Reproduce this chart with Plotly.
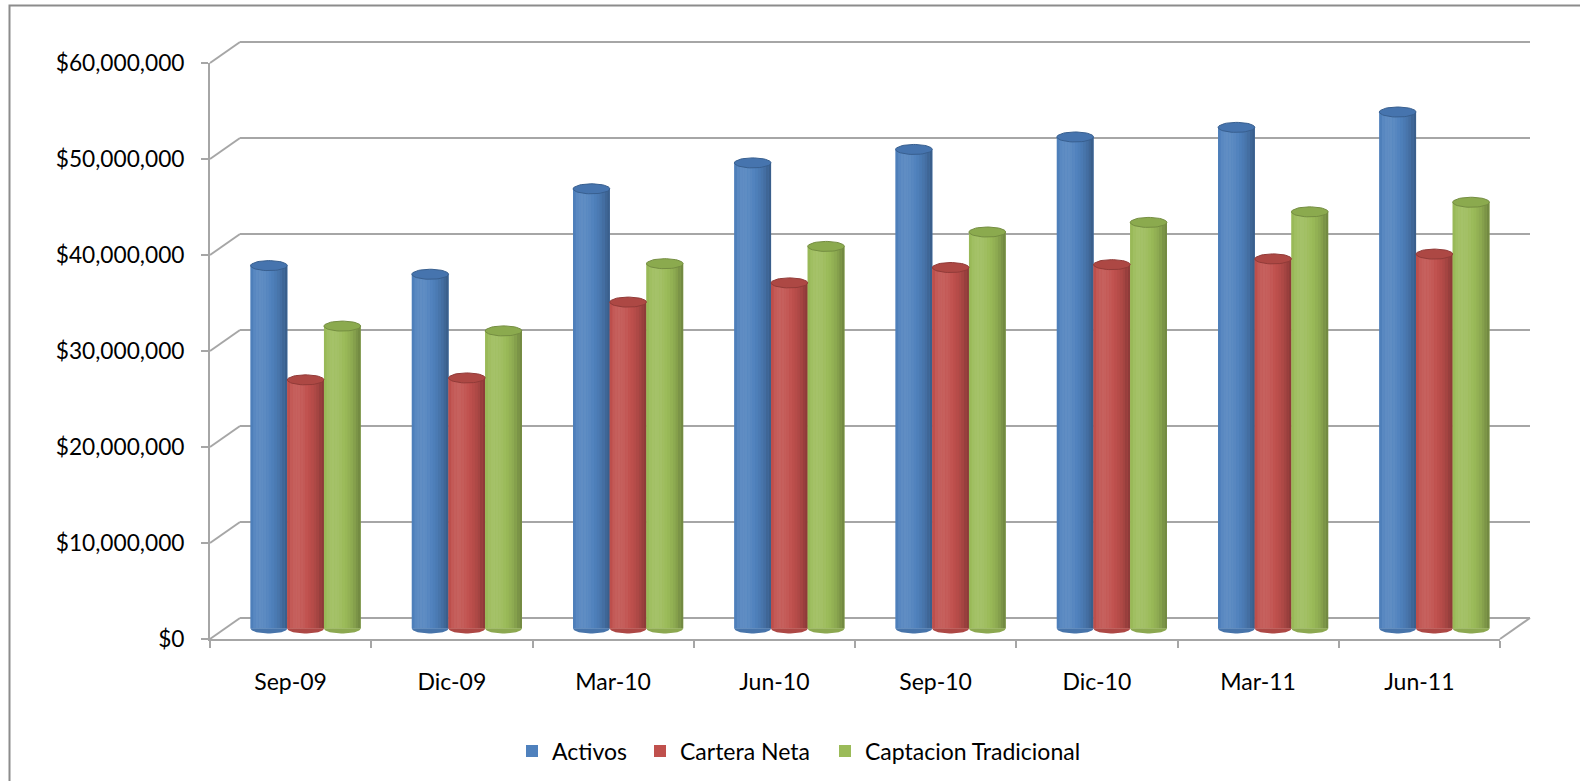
import numpy as np
import plotly.graph_objects as go

# ---------------- data ----------------
categories = ["Sep-09", "Dic-09", "Mar-10", "Jun-10", "Sep-10", "Dic-10", "Mar-11", "Jun-11"]
activos = [37.8e6, 36.9e6, 45.8e6, 48.5e6, 49.9e6, 51.2e6, 52.2e6, 53.8e6]
cartera_neta = [25.9e6, 26.1e6, 34.0e6, 36.0e6, 37.6e6, 37.9e6, 38.5e6, 39.0e6]
captacion_tradicional = [31.5e6, 31.0e6, 38.0e6, 39.8e6, 41.3e6, 42.3e6, 43.4e6, 44.4e6]
series_names = ["Activos", "Cartera Neta", "Captacion Tradicional"]
y_ticks = [0, 10e6, 20e6, 30e6, 40e6, 50e6, 60e6]
y_tick_labels = ["$0", "$10,000,000", "$20,000,000", "$30,000,000",
                 "$40,000,000", "$50,000,000", "$60,000,000"]

# ---------------- styling ----------------
W, H = 1580, 781
FONT = "Lato, 'Open Sans', sans-serif"
FS = 23
FSY = 22.7
GRID = "#A6A6A6"
main_colors = ["#4F81BD", "#C0504D", "#9BBB59"]
edge_colors = ["#385F8F", "#913B38", "#748D41"]
top_colors = ["#4674AE", "#AD4844", "#8BAA4E"]
legend_px = [532, 660, 845]   # left edge of legend squares (px)

SCALE = 96 / 10e6          # px per unit
FX0, FX1, FY0 = 210, 1500, 639   # front plane
BDX, BDY = 15, -10.5        # bars plane offset
WDX, WDY = 30, -21          # back wall offset
YMAX = 60e6
YNEG = 2e6
PADV = 0.6e6                # small range padding so edge gridlines are drawn


def px(x):
    return x / W


def py(y):
    return 1 - y / H


def hex2rgb(h):
    h = h.lstrip("#")
    return [int(h[i:i + 2], 16) for i in (0, 2, 4)]


def shade(hexcol, f):
    r = hex2rgb(hexcol)
    out = []
    for c in r:
        if f <= 1:
            v = c * f
        else:
            v = c + (255 - c) * (f - 1) * 1.6
        out.append(int(max(0, min(255, round(v)))))
    return "rgb(%d,%d,%d)" % tuple(out)


n = len(categories)
idx = np.arange(n)
bw = 0.2275                 # one cylinder width in category units
ell_h = 5.0 / SCALE         # ellipse half height in data units
NSTRIP = 14

fig = go.Figure()

all_series = [activos, cartera_neta, captacion_tradicional]
for s, (vals, name) in enumerate(zip(all_series, series_names)):
    main = main_colors[s]
    left = (s - 1.5) * bw
    # base bar (legend entry)
    fig.add_trace(go.Bar(
        x=idx, y=vals, offset=left, width=bw,
        marker=dict(color=main, line=dict(width=0)),
        name=name, showlegend=True, legend=["legend", "legend2", "legend3"][s],
        xaxis="x3", yaxis="y3",
    ))
    # cylinder shading strips
    for k in range(NSTRIP):
        u = (k + 0.5) / NSTRIP
        theta = np.arcsin(2 * u - 1)
        f = 0.74 + 0.32 * max(0.0, np.cos(theta + 0.5))
        fig.add_trace(go.Bar(
            x=idx, y=vals, offset=left + k * bw / NSTRIP, width=bw / NSTRIP * 1.02,
            marker=dict(color=shade(main, f), line=dict(width=0)),
            showlegend=False, hoverinfo="skip", xaxis="x3", yaxis="y3",
        ))

# ellipse tops and rounded bottoms
t = np.linspace(0, 2 * np.pi, 48)
tb = np.linspace(np.pi, 2 * np.pi, 24)
for s, vals in enumerate(all_series):
    main, edge, top = main_colors[s], edge_colors[s], top_colors[s]
    cx_off = (s - 1.0) * bw
    xs, ys, xb, ybt = [], [], [], []
    for i, v in enumerate(vals):
        cx = i + cx_off
        xs += list(cx + bw / 2 * np.cos(t)) + [None]
        ys += list(v + ell_h * np.sin(t)) + [None]
        xb += list(cx + bw / 2 * np.cos(tb)) + [cx - bw / 2, None]
        ybt += list(ell_h * np.sin(tb)) + [0, None]
    fig.add_trace(go.Scatter(x=xb, y=ybt, mode="lines", fill="toself", fillcolor=shade(main, 0.9),
                             line=dict(width=0, color=main), showlegend=False,
                             hoverinfo="skip", xaxis="x3", yaxis="y3"))
    fig.add_trace(go.Scatter(x=xs, y=ys, mode="lines", fill="toself", fillcolor=top,
                             line=dict(width=1, color=edge), showlegend=False,
                             hoverinfo="skip", xaxis="x3", yaxis="y3"))

# dummy traces to activate front and back subplots
fig.add_trace(go.Scatter(x=[None], y=[None], xaxis="x2", yaxis="y2", showlegend=False))
fig.add_trace(go.Scatter(x=[None], y=[None], xaxis="x", yaxis="y", showlegend=False))

xr = [-0.5, n - 0.5]


def leg(i):
    return dict(orientation="h", x=px(legend_px[i] - 20), xanchor="left",
                y=py(751), yanchor="middle", font=dict(family=FONT, size=FS),
                bgcolor="rgba(0,0,0,0)", itemclick=False, itemdoubleclick=False)


fig.update_layout(
    width=W, height=H,
    margin=dict(l=0, r=0, t=0, b=0, pad=0, autoexpand=False),
    paper_bgcolor="white", plot_bgcolor="rgba(0,0,0,0)",
    barmode="overlay",
    font=dict(family=FONT, size=FS, color="#000000"),
    showlegend=True,
    legend=leg(0), legend2=leg(1), legend3=leg(2),
    # back wall
    xaxis2=dict(domain=[px(FX0 + WDX), px(FX1 + WDX)], range=xr, anchor="y2",
                visible=False, fixedrange=True),
    yaxis2=dict(domain=[py(FY0 + WDY + PADV * SCALE), py(FY0 + WDY - (YMAX + PADV) * SCALE)],
                range=[-PADV, YMAX + PADV],
                anchor="x2", showgrid=True, gridcolor=GRID, gridwidth=2,
                tickvals=y_ticks, showticklabels=False, zeroline=False,
                showline=False, ticks=""),
    # bars plane
    xaxis3=dict(domain=[px(FX0 + BDX), px(FX1 + BDX)], range=xr, anchor="y3",
                visible=False, fixedrange=True),
    yaxis3=dict(domain=[py(FY0 + BDY + YNEG * SCALE), py(FY0 + BDY - YMAX * SCALE)],
                range=[-YNEG, YMAX], anchor="x3", visible=False, fixedrange=True),
    # front axes
    xaxis=dict(domain=[px(FX0), px(FX1)], range=xr, anchor="y",
               tickvals=list(idx), ticktext=categories, ticks="",
               showline=True, linecolor=GRID, linewidth=2, showgrid=False,
               zeroline=False, ticklabelstandoff=21, automargin=False,
               minor=dict(tickvals=[i - 0.5 for i in range(n + 1)], ticks="outside",
                          ticklen=7, tickcolor=GRID, tickwidth=2, showgrid=False),
               tickfont=dict(size=FS)),
    yaxis=dict(domain=[py(FY0), py(FY0 - YMAX * SCALE)], range=[0, YMAX], anchor="x",
               tickvals=y_ticks, ticktext=y_tick_labels, ticks="outside",
               ticklen=7, tickcolor=GRID, tickwidth=2, showline=True, linecolor=GRID,
               linewidth=2, showgrid=False, zeroline=False, ticklabelstandoff=12,
               automargin=False, tickfont=dict(size=FSY)),
)

# side-wall diagonals and floor edge
shapes = []
for v in y_ticks:
    shapes.append(dict(type="line", xref="paper", yref="paper",
                       x0=px(FX0), y0=py(FY0 - v * SCALE),
                       x1=px(FX0 + WDX), y1=py(FY0 + WDY - v * SCALE),
                       line=dict(color=GRID, width=2), layer="below"))
shapes.append(dict(type="line", xref="paper", yref="paper",
                   x0=px(FX1), y0=py(FY0), x1=px(FX1 + WDX), y1=py(FY0 + WDY),
                   line=dict(color=GRID, width=2), layer="below"))
# outer chart border
shapes.append(dict(type="rect", xref="paper", yref="paper",
                   x0=px(9.5), y0=py(5.5), x1=px(1620), y1=py(820),
                   line=dict(color="#8C8C8C", width=2), layer="below"))
fig.update_layout(shapes=shapes)

fig.write_html("out.html", config={"displayModeBar": False},
               post_script="document.body.style.margin='0px';document.body.style.overflow='hidden';")
